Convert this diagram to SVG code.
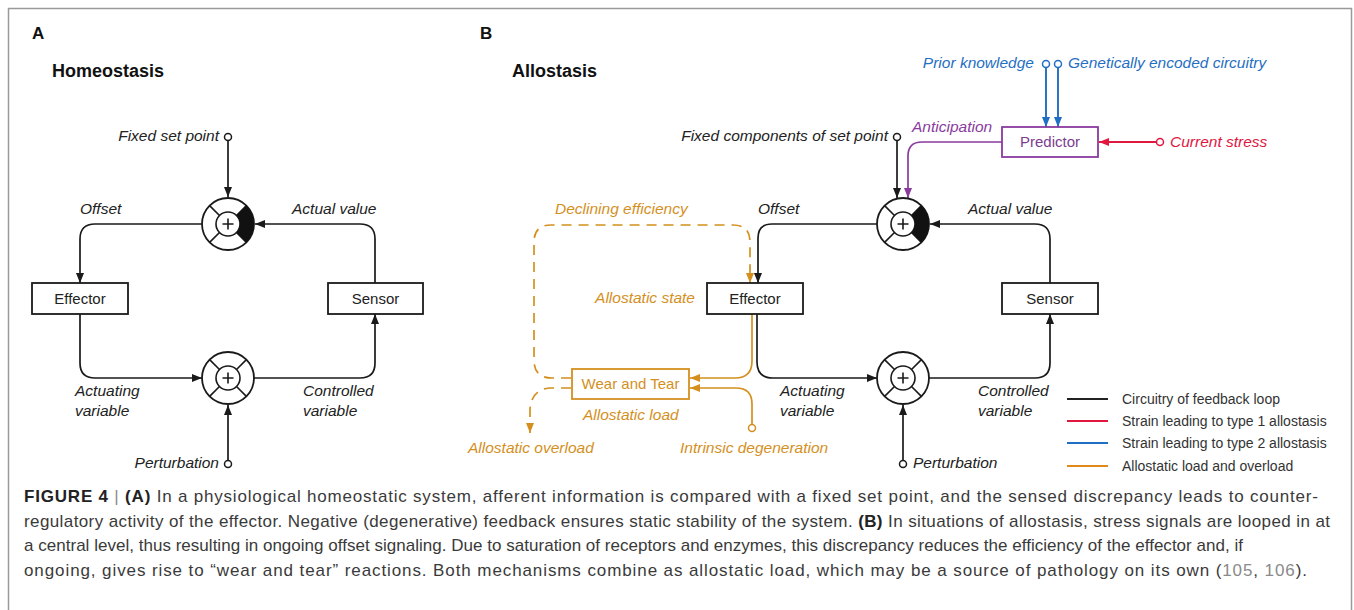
<svg xmlns="http://www.w3.org/2000/svg" width="1354" height="610" viewBox="0 0 1354 610">
<style>
text{font-family:"Liberation Sans",Arial,sans-serif;}
.lbl{font-size:15.5px;font-style:italic;fill:#222;}
.box{font-size:15px;fill:#222;}
.ttl{font-size:18px;font-weight:bold;fill:#111;}
.pan{font-size:17px;font-weight:bold;fill:#111;}
.or{fill:#d4901e;}
.pu{fill:#8a3b9e;}
.bl{fill:#1f6fc2;}
.rd{fill:#e0173f;}
.leg{font-size:14px;fill:#333;}
.cap{font-size:17px;fill:#3a3a3a;}
.cap .b{font-weight:bold;fill:#222;}
.cap .g{fill:#8a8a8a;}
.k{stroke:#1a1a1a;stroke-width:1.7;fill:none;}
.ko{stroke:#d4901e;stroke-width:1.7;fill:none;}
.kd{stroke:#d4901e;stroke-width:1.7;fill:none;stroke-dasharray:10 7;}
.kp{stroke:#8a3b9e;stroke-width:1.7;fill:none;}
.kb{stroke:#1f6fc2;stroke-width:1.9;fill:none;}
.kr{stroke:#e0173f;stroke-width:1.9;fill:none;}
.src{fill:#fff;stroke-width:1.5;}
.nb{fill:#fff;stroke:#1a1a1a;stroke-width:1.8;}
</style>
<defs>
<marker id="ak" viewBox="0 0 10 8" refX="10" refY="4" markerWidth="10" markerHeight="8" markerUnits="userSpaceOnUse" orient="auto"><path d="M0,0 L10,4 L0,8 Z" fill="#1a1a1a"/></marker>
<marker id="ao" viewBox="0 0 10 8" refX="10" refY="4" markerWidth="10" markerHeight="8" markerUnits="userSpaceOnUse" orient="auto"><path d="M0,0 L10,4 L0,8 Z" fill="#d4901e"/></marker>
<marker id="ap" viewBox="0 0 10 8" refX="10" refY="4" markerWidth="10" markerHeight="8" markerUnits="userSpaceOnUse" orient="auto"><path d="M0,0 L10,4 L0,8 Z" fill="#8a3b9e"/></marker>
<marker id="ab" viewBox="0 0 10 8" refX="10" refY="4" markerWidth="10" markerHeight="8" markerUnits="userSpaceOnUse" orient="auto"><path d="M0,0 L10,4 L0,8 Z" fill="#1f6fc2"/></marker>
<marker id="ar" viewBox="0 0 10 8" refX="10" refY="4" markerWidth="10" markerHeight="8" markerUnits="userSpaceOnUse" orient="auto"><path d="M0,0 L10,4 L0,8 Z" fill="#e0173f"/></marker>
<g id="sum">
<circle r="26" fill="#fff" stroke="#1a1a1a" stroke-width="1.8"/>
<circle r="12" fill="none" stroke="#1a1a1a" stroke-width="1.6"/>
<path d="M8.5,8.5 L18.4,18.4 M-8.5,8.5 L-18.4,18.4 M8.5,-8.5 L18.4,-18.4 M-8.5,-8.5 L-18.4,-18.4 M-5.5,0 H5.5 M0,-5.5 V5.5" stroke="#1a1a1a" stroke-width="1.6" fill="none"/>
</g>
<path id="blk" d="M18.38,-18.38 A26,26 0 0 1 18.38,18.38 L8.49,8.49 A12,12 0 0 0 8.49,-8.49 Z" fill="#111"/>
</defs>
<rect width="1354" height="610" fill="#fff"/>
<path d="M8.5,610 V8.5 H1351.5 V610" fill="none" stroke="#9a9a9a" stroke-width="1.5"/>

<text class="pan" x="32" y="39">A</text>
<text class="pan" x="480" y="39">B</text>
<text class="ttl" x="52" y="77">Homeostasis</text>
<text class="ttl" x="512" y="77">Allostasis</text>

<g id="connectors">
<!-- Panel A -->
<path class="k" d="M228,141 V197" marker-end="url(#ak)"/>
<path class="k" d="M202,224 H95 Q80,224 80,239 V283" marker-end="url(#ak)"/>
<path class="k" d="M375,283 V239 Q375,224 360,224 H255" marker-end="url(#ak)"/>
<path class="k" d="M80,314 V363 Q80,378 95,378 H202" marker-end="url(#ak)"/>
<path class="k" d="M254,378 H360 Q375,378 375,363 V314" marker-end="url(#ak)"/>
<path class="k" d="M228,460 V405" marker-end="url(#ak)"/>
<!-- Panel B black -->
<path class="k" d="M897,141 V198" marker-end="url(#ak)"/>
<path class="k" d="M877,224 H772 Q758,224 758,238 V283" marker-end="url(#ak)"/>
<path class="k" d="M1050,283 V239 Q1050,224 1035,224 H930" marker-end="url(#ak)"/>
<path class="k" d="M757,314 V362 Q757,378 773,378 H877" marker-end="url(#ak)"/>
<path class="k" d="M929,378 H1035 Q1050,378 1050,363 V314" marker-end="url(#ak)"/>
<path class="k" d="M903,460 V405" marker-end="url(#ak)"/>
<!-- purple -->
<path class="kp" d="M1002,142 H922 Q908,142 908,156 V198" marker-end="url(#ap)"/>
<!-- blue -->
<path class="kb" d="M1046,68 V127" marker-end="url(#ab)"/>
<path class="kb" d="M1058,68 V127" marker-end="url(#ab)"/>
<!-- red -->
<path class="kr" d="M1156,142 H1099" marker-end="url(#ar)"/>
<!-- orange -->
<path class="ko" d="M752,314 V361 Q752,378 735,378 H690" marker-end="url(#ao)"/>
<path class="ko" d="M752,424 V404 Q752,388 736,388 H690" marker-end="url(#ao)"/>
<path class="kd" d="M571,378 H552 Q534,378 534,360 V242 Q534,225 551,225 H733 Q750,225 750,242 V283" marker-end="url(#ao)"/>
<path class="kd" d="M571,388 H549 Q531,390 530,410 V433" marker-end="url(#ao)"/>
<!-- source terminals -->
<circle class="src" cx="228" cy="137" r="3.5" stroke="#1a1a1a"/>
<circle class="src" cx="228" cy="464" r="3.5" stroke="#1a1a1a"/>
<circle class="src" cx="897" cy="137" r="3.5" stroke="#1a1a1a"/>
<circle class="src" cx="903" cy="464" r="3.5" stroke="#1a1a1a"/>
<circle class="src" cx="1046" cy="64" r="3.5" stroke="#1f6fc2"/>
<circle class="src" cx="1058" cy="64" r="3.5" stroke="#1f6fc2"/>
<circle class="src" cx="1160" cy="142" r="3.5" stroke="#e0173f"/>
<circle class="src" cx="752" cy="428" r="3.5" stroke="#d4901e"/>
</g>

<!-- Panel A nodes -->
<g id="a-comparator" transform="translate(228,224)"><use href="#sum"/><use href="#blk"/></g>
<g id="a-summer" transform="translate(228,378)"><use href="#sum"/></g>
<g id="a-effector"><rect class="nb" x="32" y="283" width="96" height="31"/><text class="box" x="80" y="304" text-anchor="middle">Effector</text></g>
<g id="a-sensor"><rect class="nb" x="328" y="283" width="95" height="31"/><text class="box" x="375.5" y="304" text-anchor="middle">Sensor</text></g>

<!-- Panel B nodes -->
<g id="b-comparator" transform="translate(903,224)"><use href="#sum"/><use href="#blk"/></g>
<g id="b-summer" transform="translate(903,378)"><use href="#sum"/></g>
<g id="b-effector"><rect class="nb" x="707" y="283" width="96" height="31"/><text class="box" x="755" y="304" text-anchor="middle">Effector</text></g>
<g id="b-sensor"><rect class="nb" x="1002" y="283" width="96" height="31"/><text class="box" x="1050" y="304" text-anchor="middle">Sensor</text></g>
<g id="b-predictor"><rect x="1002" y="127" width="96" height="30" fill="#fff" stroke="#8a3b9e" stroke-width="1.8"/><text class="box pu" x="1050" y="147" text-anchor="middle" style="fill:#7c3c90">Predictor</text></g>
<g id="b-wear"><rect x="572" y="369" width="117" height="30" fill="#fff" stroke="#d4901e" stroke-width="1.8"/><text class="box or" x="630.5" y="389" text-anchor="middle">Wear and Tear</text></g>

<!-- labels A -->
<g id="labels-a">
<text class="lbl" x="219" y="141" text-anchor="end">Fixed set point</text>
<text class="lbl" x="80" y="214">Offset</text>
<text class="lbl" x="292" y="214">Actual value</text>
<text class="lbl" x="75" y="396">Actuating</text>
<text class="lbl" x="75" y="416">variable</text>
<text class="lbl" x="303" y="396">Controlled</text>
<text class="lbl" x="303" y="416">variable</text>
<text class="lbl" x="219" y="468" text-anchor="end">Perturbation</text>
</g>
<!-- labels B -->
<g id="labels-b">
<text class="lbl" x="888" y="141" text-anchor="end">Fixed components of set point</text>
<text class="lbl pu" x="912" y="132">Anticipation</text>
<text class="lbl bl" x="1034" y="68" text-anchor="end">Prior knowledge</text>
<text class="lbl bl" x="1068" y="68">Genetically encoded circuitry</text>
<text class="lbl rd" x="1170" y="147">Current stress</text>
<text class="lbl or" x="555" y="214">Declining efficiency</text>
<text class="lbl" x="758" y="214">Offset</text>
<text class="lbl" x="968" y="214">Actual value</text>
<text class="lbl or" x="695" y="303" text-anchor="end">Allostatic state</text>
<text class="lbl or" x="583" y="420">Allostatic load</text>
<text class="lbl" x="780" y="396">Actuating</text>
<text class="lbl" x="780" y="416">variable</text>
<text class="lbl" x="978" y="396">Controlled</text>
<text class="lbl" x="978" y="416">variable</text>
<text class="lbl or" x="468" y="453">Allostatic overload</text>
<text class="lbl or" x="680" y="453">Intrinsic degeneration</text>
<text class="lbl" x="913" y="468">Perturbation</text>
</g>

<g id="legend">
<path d="M1067,399 H1108" stroke="#222" stroke-width="2.2"/>
<path d="M1067,421 H1108" stroke="#e0173f" stroke-width="2.2"/>
<path d="M1067,443 H1108" stroke="#1f6fc2" stroke-width="2.2"/>
<path d="M1067,466 H1108" stroke="#e08a1a" stroke-width="2.2"/>
<text class="leg" x="1122" y="404">Circuitry of feedback loop</text>
<text class="leg" x="1122" y="426">Strain leading to type 1 allostasis</text>
<text class="leg" x="1122" y="448">Strain leading to type 2 allostasis</text>
<text class="leg" x="1122" y="471">Allostatic load and overload</text>
</g>

<g id="caption" class="cap">
<text x="24" y="502" textLength="1294" lengthAdjust="spacing"><tspan class="b">FIGURE 4</tspan> <tspan class="g">|</tspan> <tspan class="b">(A)</tspan> In a physiological homeostatic system, afferent information is compared with a fixed set point, and the sensed discrepancy leads to counter-</text>
<text x="24" y="527" textLength="1306" lengthAdjust="spacing">regulatory activity of the effector. Negative (degenerative) feedback ensures static stability of the system. <tspan class="b">(B)</tspan> In situations of allostasis, stress signals are looped in at</text>
<text x="24" y="551" textLength="1219" lengthAdjust="spacing">a central level, thus resulting in ongoing offset signaling. Due to saturation of receptors and enzymes, this discrepancy reduces the efficiency of the effector and, if</text>
<text x="24" y="576" textLength="1283" lengthAdjust="spacing">ongoing, gives rise to “wear and tear” reactions. Both mechanisms combine as allostatic load, which may be a source of pathology on its own (<tspan class="g">105</tspan>, <tspan class="g">106</tspan>).</text>
</g>
</svg>
